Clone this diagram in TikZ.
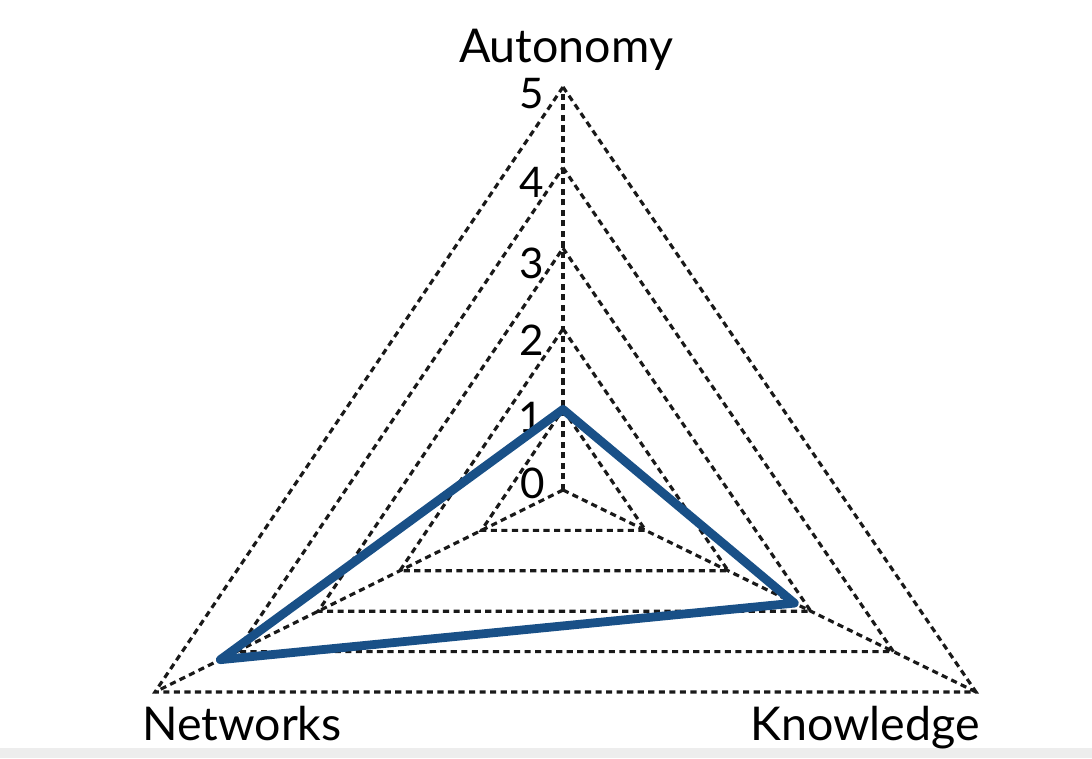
\documentclass[tikz,border=0pt]{standalone}
\usepackage{fontspec}
\setmainfont{Lato}
\usetikzlibrary{calc}

\definecolor{chartblue}{RGB}{25,80,135}
\tikzstyle{grid} = [black!90, line width=1.8pt, dash pattern=on 3.5pt off 2.5pt]
\tikzstyle{profile} = [chartblue, line width=5pt, line join=round]
\tikzstyle{axislabel} = [font=\fontsize{26.5}{30}\selectfont, inner sep=0pt]
\tikzstyle{tick} = [font=\fontsize{24}{28}\selectfont, inner sep=0pt]

\begin{document}
\begin{tikzpicture}[x=0.02cm,y=0.02cm]
    \useasboundingbox (0,0) rectangle (1092,758);
    \fill[black!7] (0,0) rectangle (1092,10);
    \coordinate (O) at (563,268);
    \coordinate (A5) at (563,671);
    \coordinate (N5) at (155,66);
    \coordinate (K5) at (976,66);
    % level triangles
    \foreach \l in {1,...,5} {
        \draw[grid] ($(O)!\l/5!(A5)$) -- ($(O)!\l/5!(K5)$) -- ($(O)!\l/5!(N5)$) -- cycle;
    }
    \draw[grid] (O) -- (A5);
    \draw[grid] (O) -- (N5);
    \draw[grid] (O) -- (K5);
    % scale
    \node[tick] (t5) at (532,664) {5};
    \node[tick] (t4) at (532,576) {4};
    \node[tick] (t3) at (532,495) {3};
    \node[tick] (t2) at (532,418) {2};
    \node[tick] (t1) at (531,341) {1};
    \node[tick] (t0) at (533,275) {0};
    % profile
    \draw[profile] ($(O)!1/5!(A5)$) -- ($(O)!2.8/5!(K5)$) -- ($(O)!4.2/5!(N5)$) -- cycle;
    \node[axislabel, anchor=base] (aut) at (566,695) {Autonomy};
    \node[axislabel, anchor=base] (net) at (242,18) {Networks};
    \node[axislabel, anchor=base] (know) at (865,18) {Knowledge};
\end{tikzpicture}
\end{document}
